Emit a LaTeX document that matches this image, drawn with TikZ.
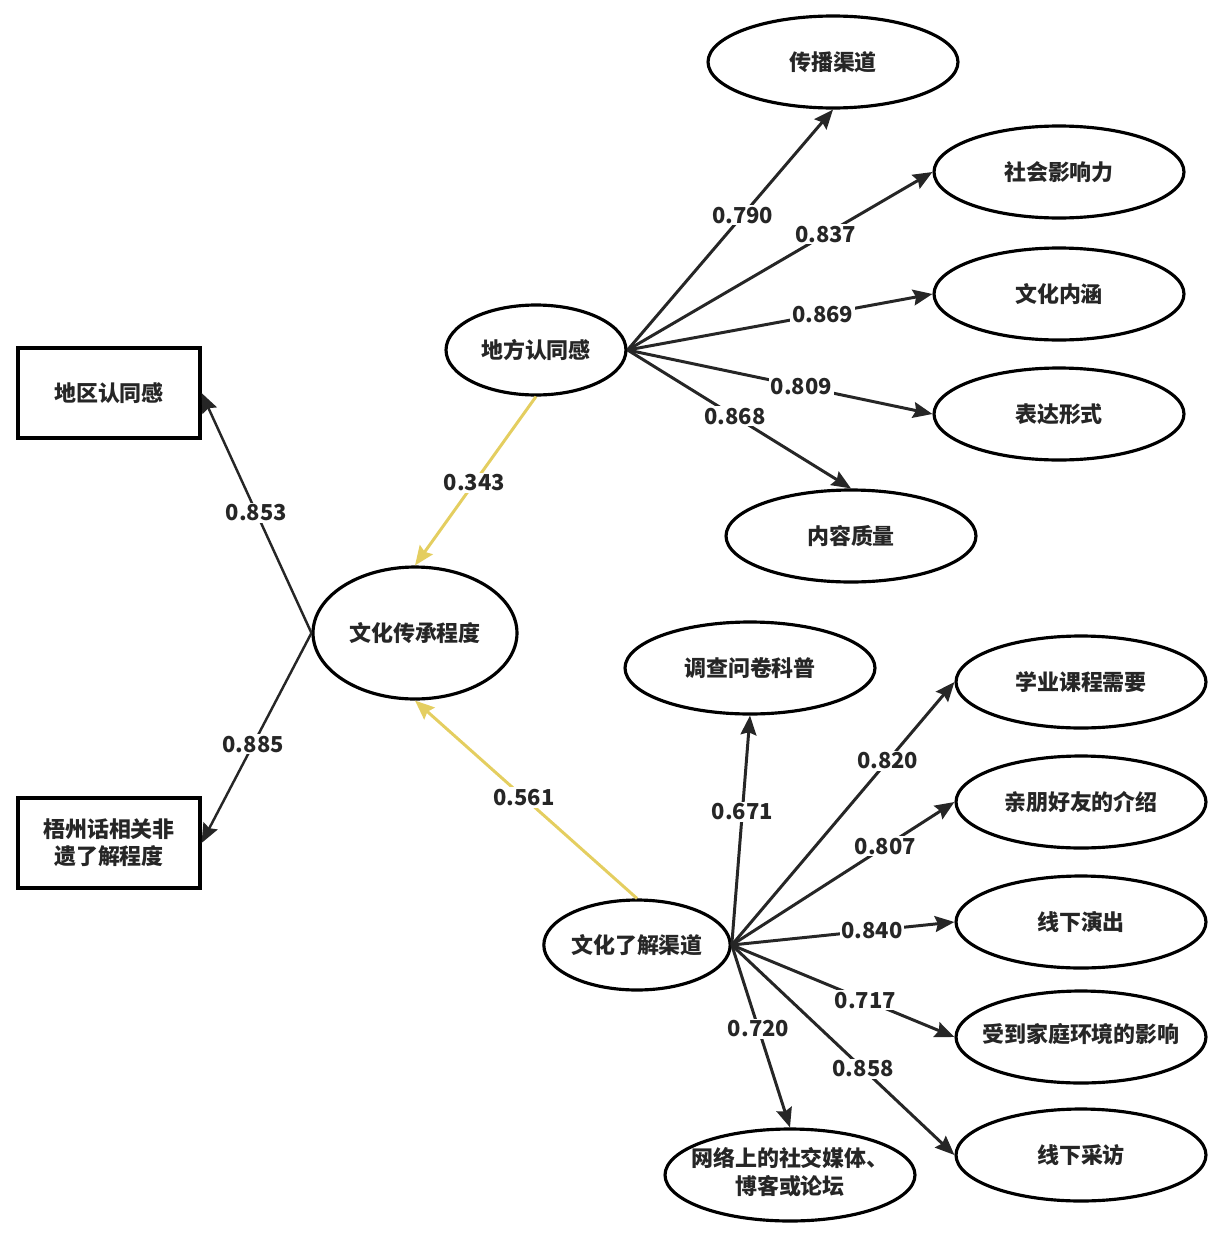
\documentclass[tikz,border=0pt]{standalone}
\usepackage{fontspec}
\setmainfont{Noto Sans CJK SC}
\usetikzlibrary{shapes.geometric,arrows.meta}
\definecolor{huang}{RGB}{228,206,96}
\newcommand{\kuan}[1]{\makebox[0pt]{\begin{tabular}{@{}c@{}}#1\end{tabular}}}
\tikzset{
  zi/.style={font=\bfseries\fontsize{12.5}{15.5}\selectfont, text=black!85},
  yuan/.style={ellipse, draw, line width=1.8pt, minimum width=5cm, minimum height=1.84cm, inner sep=0pt, align=center, zi},
  fang/.style={rectangle, draw, line width=1.8pt, minimum width=3.64cm, minimum height=1.8cm, inner sep=0pt, align=center, zi},
  xian/.style={line width=1.7pt, draw=black!85, -{Stealth[length=11pt,width=9pt,inset=1.5pt]}},
  huangxian/.style={xian, draw=huang},
  shu/.style={fill=white, inner sep=1pt, zi}
}
\begin{document}
\begin{tikzpicture}[x=0.02cm,y=-0.02cm]
\useasboundingbox (0,0) rectangle (1228,1234);
%潜变量
\node[yuan, minimum width=4.08cm, minimum height=2.64cm] (chuancheng) at (415,633) {文化传承程度};
\node[yuan, minimum width=3.6cm, minimum height=1.8cm] (difang) at (536,350) {地方认同感};
\node[yuan, minimum width=3.6cm, minimum height=1.8cm] (liaojie) at (637,945) {文化了解渠道};
%观测变量
\node[fang] (diqu) at (109,393) {地区认同感};
\node[fang] (wuzhou) at (109,843) {梧州话相关非\\遗了解程度};

\node[yuan] (chuanbo) at (833,62) {传播渠道};
\node[yuan] (shehui) at (1059,172) {社会影响力};
\node[yuan] (neihan) at (1059,294) {文化内涵};
\node[yuan] (biaoda) at (1059,414) {表达形式};
\node[yuan] (zhiliang) at (851,536) {内容质量};

\node[yuan] (wenjuan) at (750,668) {调查问卷科普};
\node[yuan] (xueye) at (1081,682) {学业课程需要};
\node[yuan] (qinpeng) at (1081,802) {亲朋好友的介绍};
\node[yuan] (yanchu) at (1081,922) {线下演出};
\node[yuan] (jiating) at (1081,1037) {\kuan{受到家庭环境的影响}};
\node[yuan] (caifang) at (1081,1155) {线下采访};
\node[yuan] (wangluo) at (790,1175) {\kuan{网络上的社交媒体、\\博客或论坛}};

%路径
\draw[xian, line width=1.4pt] (chuancheng.west) -- node[shu,pos=.5]{0.853} (diqu.east);
\draw[xian, line width=1.4pt] (chuancheng.west) -- node[shu,pos=.53]{0.885} (wuzhou.east);
\draw[huangxian] (difang.south) -- node[shu,pos=.51]{0.343} (chuancheng.north);
\draw[huangxian] (liaojie.north) -- node[shu,pos=.51]{0.561} (chuancheng.south);

\draw[xian] (difang.east) -- node[shu,pos=.56]{0.790} (chuanbo.south);
\draw[xian] (difang.east) -- node[shu,pos=.65]{0.837} (shehui.west);
\draw[xian] (difang.east) -- node[shu,pos=.64]{0.869} (neihan.west);
\draw[xian] (difang.east) -- node[shu,pos=.57]{0.809} (biaoda.west);
\draw[xian] (difang.east) -- node[shu,pos=.48]{0.868} (zhiliang.north);

\draw[xian] (liaojie.east) -- node[shu,pos=.58]{0.671} (wenjuan.south);
\draw[xian] (liaojie.east) -- node[shu,pos=.70]{0.820} (xueye.west);
\draw[xian] (liaojie.east) -- node[shu,pos=.69]{0.807} (qinpeng.west);
\draw[xian] (liaojie.east) -- node[shu,pos=.63]{0.840} (yanchu.west);
\draw[xian] (liaojie.east) -- node[shu,pos=.60]{0.717} (jiating.west);
\draw[xian] (liaojie.east) -- node[shu,pos=.59]{0.858} (caifang.west);
\draw[xian] (liaojie.east) -- node[shu,pos=.46]{0.720} (wangluo.north);
\end{tikzpicture}
\end{document}
